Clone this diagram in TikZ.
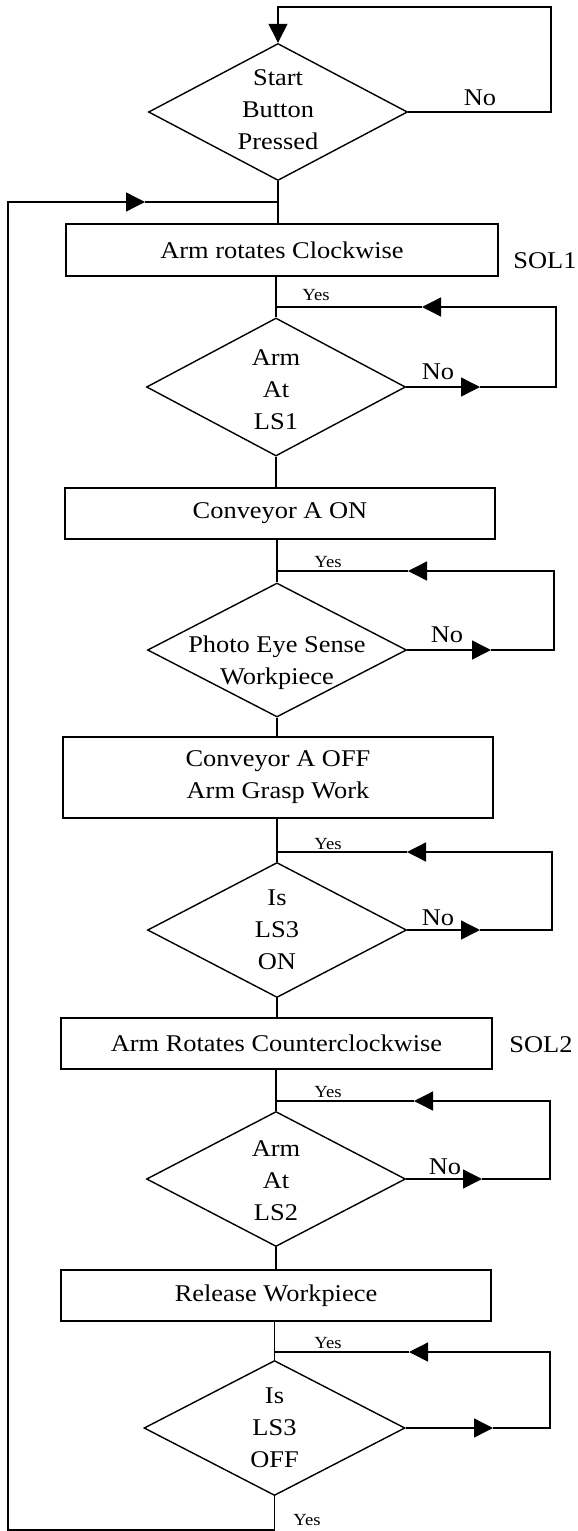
\documentclass[tikz,border=0pt]{standalone}
\usepackage{fontspec}
\setmainfont{Liberation Serif}[FakeStretch=1.1]
\usetikzlibrary{shapes.geometric,arrows.meta}
\begin{document}
\begin{tikzpicture}[x=0.5pt,y=-0.5pt, line width=0.7pt,
  dec/.style={diamond, draw, inner sep=0pt, minimum width=129.5pt, minimum height=67.5pt},
  proc/.style={rectangle, draw, inner sep=0pt, minimum height=25.5pt, minimum width=215pt, font=\fontsize{12}{16}\selectfont, align=center},
  txt/.style={align=center, font=\fontsize{12}{16}\selectfont, inner sep=0pt},
  small/.style={font=\fontsize{8.5}{10}\selectfont, inner sep=0pt},
  arr/.style={-{Triangle[length=9.5pt,width=9.5pt]}}]
\useasboundingbox (0,0) rectangle (578,1531);

% ---- Start decision
\node[dec, minimum height=68.5pt] (D1) at (278,112) {};
\node[txt] (t1) at (278,110) {Start\\Button\\Pressed};
\node[txt] (no1) at (480,98) {No};
\coordinate (c1a) at (551,112);
\coordinate (c1b) at (551,7);
\coordinate (c1c) at (278,7);
\draw[arr] (D1.east) -- (c1a) -- (c1b) -- (c1c) -- (D1.north);

% ---- Box 1
\node[proc, minimum width=216pt, minimum height=26pt] (B1) at (282,250) {Arm rotates Clockwise};
\node[txt] (sol1) at (545,261) {SOL1};
\draw (D1.south) -- (D1.south |- B1.north);

% ---- Decision 2
\node[dec, minimum height=69pt] (D2) at (276,387) {};
\node[txt] (t2) at (276,390) {Arm\\At\\LS1};
\draw (D2.north |- B1.south) -- (D2.north);
\coordinate (n2) at (480,387);
\coordinate (r2a) at (556,387);
\coordinate (r2b) at (556,307);
\coordinate (y2) at (422,307);
\draw[arr] (D2.east) -- (n2);
\draw[arr] (n2) -- (r2a) -- (r2b) -- (y2);
\draw (y2) -- (D2.north |- y2);
\node[small] (ys2) at (316,295) {Yes};
\node[txt] (no2) at (438,372) {No};

% ---- Box 2
\node[proc] (B2) at (280,513.5) {Conveyor A ON};
\draw (D2.south) -- (D2.south |- B2.north);

% ---- Decision 3
\node[dec, minimum height=67pt] (D3) at (277,650) {};
\node[txt] (t3) at (277,663) {Photo Eye Sense\\Workpiece};
\draw (D3.north |- B2.south) -- (D3.north);
\coordinate (n3) at (491,650);
\coordinate (r3a) at (554,650);
\coordinate (r3b) at (554,571);
\coordinate (y3) at (408,571);
\draw[arr] (D3.east) -- (n3);
\draw[arr] (n3) -- (r3a) -- (r3b) -- (y3);
\draw (y3) -- (D3.north |- y3);
\node[small] (ys3) at (328,562) {Yes};
\node[txt] (no3) at (447,635) {No};

% ---- Box 3
\node[proc, minimum height=40.5pt] (B3) at (278,777.5) {Conveyor A OFF\\Arm Grasp Work};
\draw (D3.south) -- (D3.south |- B3.north);

% ---- Decision 4
\node[dec] (D4) at (277,930) {};
\node[txt] (t4) at (277,930) {Is\\LS3\\ON};
\draw (D4.north |- B3.south) -- (D4.north);
\coordinate (n4) at (480,930);
\coordinate (r4a) at (552,930);
\coordinate (r4b) at (552,852);
\coordinate (y4) at (407,852);
\draw[arr] (D4.east) -- (n4);
\draw[arr] (n4) -- (r4a) -- (r4b) -- (y4);
\draw (y4) -- (D4.north |- y4);
\node[small] (ys4) at (328,844) {Yes};
\node[txt] (no4) at (438,918) {No};

% ---- Box 4
\node[proc, minimum width=215.5pt] (B4) at (276.5,1043.5) {Arm Rotates Counterclockwise};
\node[txt] (sol2) at (541,1045) {SOL2};
\draw (D4.south) -- (D4.south |- B4.north);

% ---- Decision 5
\node[dec] (D5) at (276,1179) {};
\node[txt] (t5) at (276,1181) {Arm\\At\\LS2};
\draw (D5.north |- B4.south) -- (D5.north);
\coordinate (n5) at (482,1179);
\coordinate (r5a) at (550,1179);
\coordinate (r5b) at (550,1101);
\coordinate (y5) at (414,1101);
\draw[arr] (D5.east) -- (n5);
\draw[arr] (n5) -- (r5a) -- (r5b) -- (y5);
\draw (y5) -- (D5.north |- y5);
\node[small] (ys5) at (328,1092) {Yes};
\node[txt] (no5) at (445,1167) {No};

% ---- Box 5
\node[proc] (B5) at (276,1295.5) {Release Workpiece};
\draw (D5.south) -- (D5.south |- B5.north);

% ---- Decision 6
\node[dec, minimum width=130.5pt] (D6) at (274.5,1428) {};
\node[txt] (t6) at (274.5,1428) {Is\\LS3\\OFF};
\draw (D6.north |- B5.south) -- (D6.north);
\coordinate (n6) at (493,1428);
\coordinate (r6a) at (550,1428);
\coordinate (r6b) at (550,1352);
\coordinate (y6) at (409,1352);
\draw[arr] (D6.east) -- (n6);
\draw[arr] (n6) -- (r6a) -- (r6b) -- (y6);
\draw (y6) -- (D6.north |- y6);
\node[small] (ys6) at (328,1343) {Yes};

% ---- Return loop
\coordinate (bl1) at (274.5,1530);
\coordinate (bl2) at (8,1530);
\coordinate (bl3) at (8,202);
\coordinate (bl4) at (145,202);
\coordinate (rj) at (278,202);
\draw[arr] (D6.south) -- (bl1) -- (bl2) -- (bl3) -- (bl4);
\draw (bl4) -- (rj);
\node[small] (ys7) at (307,1520) {Yes};
\end{tikzpicture}
\end{document}
